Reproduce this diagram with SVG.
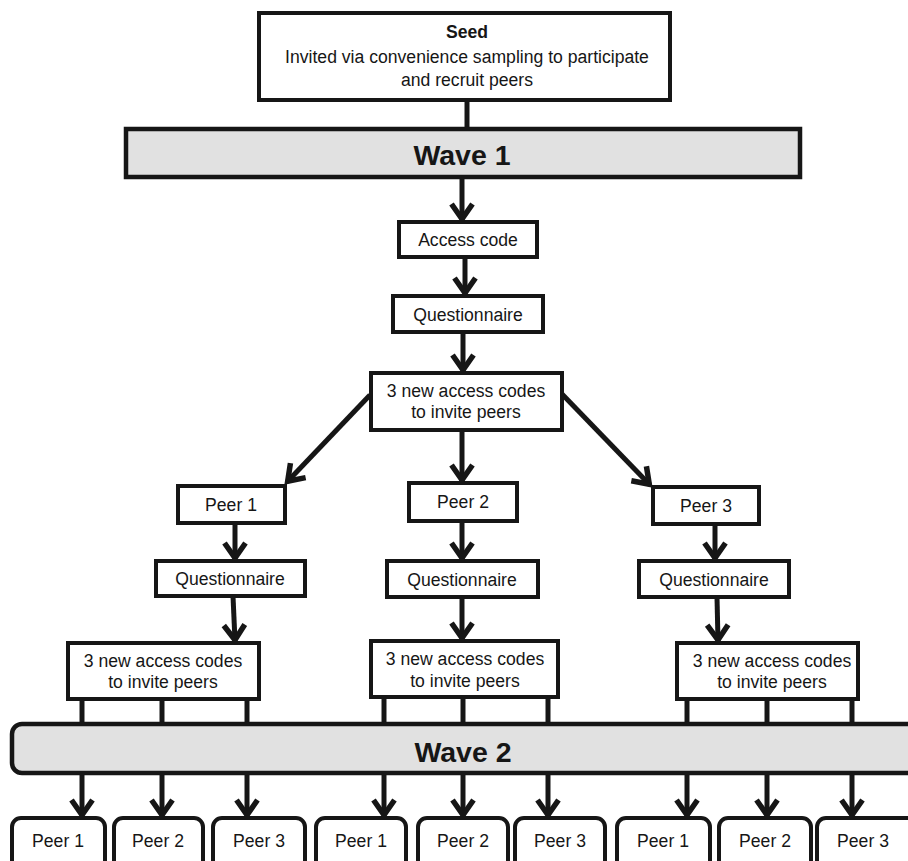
<svg xmlns="http://www.w3.org/2000/svg" width="908" height="861" viewBox="0 0 908 861">
<style>
.box{fill:#fff;stroke:#161616;stroke-width:4}
.band{fill:#e1e1e1;stroke:#161616;stroke-width:4.5}
.t{font-family:"Liberation Sans",Arial,sans-serif;font-size:17.6px;fill:#161616;text-anchor:middle}
.b{font-weight:bold}
.w{font-family:"Liberation Sans",Arial,sans-serif;font-size:28.5px;font-weight:bold;fill:#161616;text-anchor:middle}
.c line{stroke:#161616;stroke-width:5}
.a{marker-end:url(#ah)}
</style>
<defs>
<marker id="ah" markerUnits="userSpaceOnUse" viewBox="-20 -14 24 28" markerWidth="24" markerHeight="28" refX="0" refY="0" orient="auto" overflow="visible">
<path d="M-16 -10.5 L-1 0 L-16 10.5" fill="none" stroke="#161616" stroke-width="5.5" stroke-linejoin="miter"/>
</marker>
</defs>
<g class="c">
<line x1="467" y1="100" x2="467" y2="129"/>
<line class="a" x1="462" y1="177" x2="462" y2="220"/>
<line class="a" x1="465" y1="257" x2="465" y2="294"/>
<line class="a" x1="463" y1="332" x2="463" y2="371"/>
<line class="a" x1="370" y1="395" x2="287" y2="482"/>
<line class="a" x1="561" y1="393" x2="650" y2="485"/>
<line class="a" x1="462" y1="430" x2="462" y2="481"/>
<line class="a" x1="235" y1="523" x2="235" y2="559"/>
<line class="a" x1="233" y1="596" x2="235" y2="641"/>
<line class="a" x1="462" y1="521" x2="462" y2="559"/>
<line class="a" x1="462" y1="597" x2="462" y2="639"/>
<line class="a" x1="715" y1="500" x2="715" y2="559"/>
<line class="a" x1="717" y1="597" x2="718" y2="641"/>
<line x1="82" y1="699" x2="82" y2="724"/>
<line x1="162" y1="699" x2="162" y2="724"/>
<line x1="247" y1="699" x2="247" y2="724"/>
<line x1="384" y1="697" x2="384" y2="724"/>
<line x1="463" y1="697" x2="463" y2="724"/>
<line x1="548" y1="697" x2="548" y2="724"/>
<line x1="687" y1="699" x2="687" y2="724"/>
<line x1="767" y1="699" x2="767" y2="724"/>
<line x1="852" y1="699" x2="852" y2="724"/>
<line class="a" x1="82" y1="773" x2="82" y2="816"/>
<line class="a" x1="162" y1="773" x2="162" y2="816"/>
<line class="a" x1="247" y1="773" x2="247" y2="816"/>
<line class="a" x1="384" y1="773" x2="384" y2="816"/>
<line class="a" x1="463" y1="773" x2="463" y2="816"/>
<line class="a" x1="548" y1="773" x2="548" y2="816"/>
<line class="a" x1="687" y1="773" x2="687" y2="816"/>
<line class="a" x1="767" y1="773" x2="767" y2="816"/>
<line class="a" x1="852" y1="773" x2="852" y2="816"/>
</g>
<g id="seed">
<rect class="box" x="259" y="13" width="411" height="87"/>
<text class="t b" x="467" y="38" font-size="18">Seed</text>
<text class="t" x="467" y="63">Invited via convenience sampling to participate</text>
<text class="t" x="467" y="86">and recruit peers</text>
</g>
<g id="wave1">
<rect class="band" x="126" y="129" width="674" height="48"/>
<text class="w" x="462" y="165">Wave 1</text>
</g>
<g id="access">
<rect class="box" x="399" y="222" width="138" height="35"/>
<text class="t" x="468" y="246">Access code</text>
</g>
<g id="q0">
<rect class="box" x="393" y="296" width="150" height="36"/>
<text class="t" x="468" y="321">Questionnaire</text>
</g>
<g id="codes0">
<rect class="box" x="371" y="373" width="191" height="57"/>
<text class="t" x="466" y="397">3 new access codes</text>
<text class="t" x="466" y="418">to invite peers</text>
</g>
<g id="p1">
<rect class="box" x="178" y="486" width="107" height="37"/>
<text class="t" x="231" y="511">Peer 1</text>
</g>
<g id="q1">
<rect class="box" x="156" y="561" width="149" height="35"/>
<text class="t" x="230" y="585">Questionnaire</text>
</g>
<g id="codes1">
<rect class="box" x="68" y="643" width="191" height="56"/>
<text class="t" x="163" y="667">3 new access codes</text>
<text class="t" x="163" y="688">to invite peers</text>
</g>
<g id="p2">
<rect class="box" x="409" y="483" width="108" height="38"/>
<text class="t" x="463" y="508">Peer 2</text>
</g>
<g id="q2">
<rect class="box" x="387" y="561" width="151" height="36"/>
<text class="t" x="462" y="586">Questionnaire</text>
</g>
<g id="codes2">
<rect class="box" x="371" y="641" width="187" height="56"/>
<text class="t" x="465" y="665">3 new access codes</text>
<text class="t" x="465" y="687">to invite peers</text>
</g>
<g id="p3">
<rect class="box" x="653" y="487" width="106" height="37"/>
<text class="t" x="706" y="512">Peer 3</text>
</g>
<g id="q3">
<rect class="box" x="639" y="561" width="150" height="36"/>
<text class="t" x="714" y="586">Questionnaire</text>
</g>
<g id="codes3">
<rect class="box" x="677" y="643" width="181" height="56"/>
<text class="t" x="772" y="667">3 new access codes</text>
<text class="t" x="772" y="688">to invite peers</text>
</g>
<g id="wave2">
<rect class="band" x="12" y="724" width="905" height="49" rx="10"/>
<text class="w" x="463" y="762">Wave 2</text>
</g>
<g id="w2p1"><rect class="box" x="12" y="818" width="93" height="60" rx="9"/><text class="t" x="58" y="847">Peer 1</text></g>
<g id="w2p2"><rect class="box" x="114" y="818" width="89" height="60" rx="9"/><text class="t" x="158" y="847">Peer 2</text></g>
<g id="w2p3"><rect class="box" x="213" y="818" width="92" height="60" rx="9"/><text class="t" x="259" y="847">Peer 3</text></g>
<g id="w2p4"><rect class="box" x="316" y="818" width="90" height="60" rx="9"/><text class="t" x="361" y="847">Peer 1</text></g>
<g id="w2p5"><rect class="box" x="418" y="818" width="90" height="60" rx="9"/><text class="t" x="463" y="847">Peer 2</text></g>
<g id="w2p6"><rect class="box" x="515" y="818" width="90" height="60" rx="9"/><text class="t" x="560" y="847">Peer 3</text></g>
<g id="w2p7"><rect class="box" x="617" y="818" width="93" height="60" rx="9"/><text class="t" x="663" y="847">Peer 1</text></g>
<g id="w2p8"><rect class="box" x="719" y="818" width="92" height="60" rx="9"/><text class="t" x="765" y="847">Peer 2</text></g>
<g id="w2p9"><rect class="box" x="817" y="818" width="100" height="60" rx="9"/><text class="t" x="863" y="847">Peer 3</text></g>
</svg>
